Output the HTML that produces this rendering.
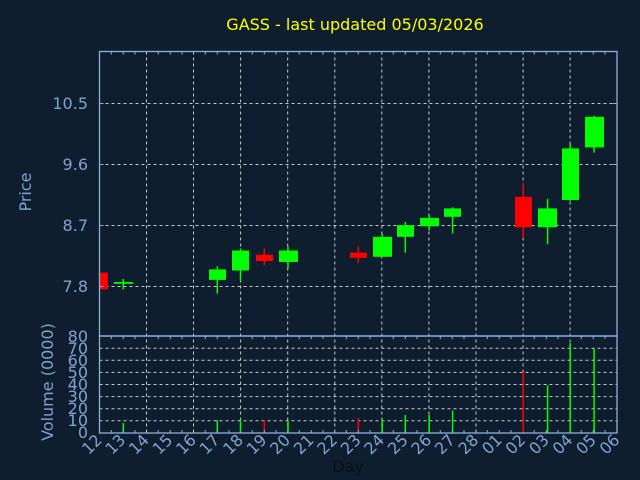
<!DOCTYPE html>
<html><head><meta charset="utf-8"><style>
html,body{margin:0;padding:0;background:#0f1e2f;}
svg{display:block;font-family:"DejaVu Sans","Liberation Sans",sans-serif;}
</style></head><body>
<svg width="640" height="480" viewBox="0 0 640 480" xmlns="http://www.w3.org/2000/svg">
<rect width="640" height="480" fill="#0f1e2f"/>
<text x="355" y="30" fill="#ffff00" font-size="16" text-anchor="middle">GASS - last updated 05/03/2026</text>
<g stroke="#c8c8c8" stroke-width="1" stroke-dasharray="3,3">
<line x1="99.5" y1="103.5" x2="617" y2="103.5"/>
<line x1="99.5" y1="164.5" x2="617" y2="164.5"/>
<line x1="99.5" y1="225.5" x2="617" y2="225.5"/>
<line x1="99.5" y1="286.5" x2="617" y2="286.5"/>
<line x1="99.5" y1="348.2" x2="617" y2="348.2"/>
<line x1="99.5" y1="360.3" x2="617" y2="360.3"/>
<line x1="99.5" y1="372.4" x2="617" y2="372.4"/>
<line x1="99.5" y1="384.5" x2="617" y2="384.5"/>
<line x1="99.5" y1="396.6" x2="617" y2="396.6"/>
<line x1="99.5" y1="408.7" x2="617" y2="408.7"/>
<line x1="99.5" y1="420.8" x2="617" y2="420.8"/>
</g>
<g stroke="#c8c8c8" stroke-width="1" stroke-dasharray="3,3" id="vg">
<line x1="146.5" y1="51.5" x2="146.5" y2="433"/>
<line x1="193.5" y1="51.5" x2="193.5" y2="433"/>
<line x1="240.6" y1="51.5" x2="240.6" y2="433"/>
<line x1="287.7" y1="51.5" x2="287.7" y2="433"/>
<line x1="334.8" y1="51.5" x2="334.8" y2="433"/>
<line x1="381.8" y1="51.5" x2="381.8" y2="433"/>
<line x1="428.9" y1="51.5" x2="428.9" y2="433"/>
<line x1="476" y1="51.5" x2="476" y2="433"/>
<line x1="523.1" y1="51.5" x2="523.1" y2="433"/>
<line x1="570.1" y1="51.5" x2="570.1" y2="433"/>
</g>
<!-- candles -->
<g fill="#00ff00" stroke="#00ff00" stroke-width="1.5">
<line x1="123.3" y1="279" x2="123.3" y2="289.4"/><rect x="114" y="282" width="19" height="1.8" stroke="none"/>
<line x1="217.3" y1="266.3" x2="217.3" y2="293.6"/><rect x="209" y="269.4" width="17" height="10.5" stroke="none"/>
<line x1="240.5" y1="248.4" x2="240.5" y2="281"/><rect x="232" y="250.5" width="17" height="20" stroke="none"/>
<line x1="288" y1="246.3" x2="288" y2="268.4"/><rect x="279" y="250.5" width="19" height="11.5" stroke="none"/>
<line x1="382.2" y1="233.6" x2="382.2" y2="240"/><rect x="373" y="236.8" width="19" height="20" stroke="none"/>
<line x1="405.3" y1="222" x2="405.3" y2="252.6"/><rect x="397" y="225.2" width="17" height="11.6" stroke="none"/>
<line x1="429.2" y1="214.7" x2="429.2" y2="230.5"/><rect x="420" y="217.9" width="19" height="8.4" stroke="none"/>
<line x1="452.6" y1="207.3" x2="452.6" y2="233.6"/><rect x="444" y="208.4" width="17" height="8.4" stroke="none"/>
<line x1="547.6" y1="198.9" x2="547.6" y2="244.2"/><rect x="538" y="208.4" width="19" height="18.9" stroke="none"/>
<line x1="570.2" y1="144.2" x2="570.2" y2="201"/><rect x="562" y="148.4" width="17" height="51.6" stroke="none"/>
<line x1="594.1" y1="115.8" x2="594.1" y2="152.6"/><rect x="585" y="116.8" width="19" height="30.6" stroke="none"/>
</g>
<g fill="#ff0000" stroke="#ff0000" stroke-width="1.5">
<rect x="99.5" y="272.6" width="8.4" height="16.8" stroke="none"/>
<line x1="264.3" y1="248.4" x2="264.3" y2="265.2"/><rect x="256" y="254.7" width="17" height="6.3" stroke="none"/>
<line x1="358.3" y1="246.3" x2="358.3" y2="263.1"/><rect x="350" y="252.6" width="17" height="5.2" stroke="none"/>
<line x1="523.2" y1="183.1" x2="523.2" y2="238"/><rect x="515" y="196.8" width="17" height="30.5" stroke="none"/>
</g>
<!-- volume -->
<g stroke="#00ff00" stroke-width="1.5">
<line x1="123.3" y1="423.1" x2="123.3" y2="433"/>
<line x1="217.3" y1="420.3" x2="217.3" y2="433"/>
<line x1="240.5" y1="419.3" x2="240.5" y2="433"/>
<line x1="288" y1="420.3" x2="288" y2="433"/>
<line x1="382.2" y1="418.9" x2="382.2" y2="433"/>
<line x1="405.3" y1="415" x2="405.3" y2="433"/>
<line x1="429.2" y1="414.7" x2="429.2" y2="433"/>
<line x1="452.6" y1="410.5" x2="452.6" y2="433"/>
<line x1="547.6" y1="385.2" x2="547.6" y2="433"/>
<line x1="570.2" y1="343.1" x2="570.2" y2="433"/>
<line x1="594.1" y1="348.1" x2="594.1" y2="433"/>
</g>
<g stroke="#ff0000" stroke-width="1.5">
<line x1="264.3" y1="420.3" x2="264.3" y2="433"/>
<line x1="358.3" y1="418.2" x2="358.3" y2="433"/>
<line x1="523.2" y1="371.9" x2="523.2" y2="433"/>
</g>
<!-- frames -->
<g fill="none" stroke="#8fb0dc" stroke-width="1.3">
<rect x="99.5" y="51.5" width="517.5" height="284.5"/>
<rect x="99.5" y="336" width="517.5" height="97"/>
</g>
<g stroke="#8fb0dc" stroke-width="1">
<path id="tk" d="M111.3 51.5v3M123.3 51.5v3M135 51.5v3M158.3 51.5v3M170.3 51.5v3M182 51.5v3M205.3 51.5v3M217.3 51.5v3M229 51.5v3M252.3 51.5v3M264.3 51.5v3M276 51.5v3M299.3 51.5v3M311.3 51.5v3M323 51.5v3M346.3 51.5v3M358.3 51.5v3M370 51.5v3M393.3 51.5v3M405.3 51.5v3M417 51.5v3M440.3 51.5v3M452.3 51.5v3M464 51.5v3M487.3 51.5v3M499.3 51.5v3M511 51.5v3M534.3 51.5v3M546.3 51.5v3M558 51.5v3M581.3 51.5v3M593.3 51.5v3M605 51.5v3"/>
<use href="#tk" y="284.5"/>
<use href="#tk" y="378.5"/>
<path d="M99.5 103.5h4M99.5 164.5h4M99.5 225.5h4M99.5 286.5h4M617 103.5h-4M617 164.5h-4M617 225.5h-4M617 286.5h-4"/>
</g>
<g fill="#7fa3cf" font-size="16" text-anchor="end">
<text x="88" y="109">10.5</text>
<text x="88" y="170">9.6</text>
<text x="88" y="231">8.7</text>
<text x="88" y="292">7.8</text>
</g>
<g fill="#7fa3cf" font-size="16" text-anchor="end">
<text x="88" y="342">80</text><text x="88" y="354">70</text><text x="88" y="366">60</text><text x="88" y="378">50</text><text x="88" y="390">40</text><text x="88" y="402">30</text><text x="88" y="414">20</text><text x="88" y="426">10</text><text x="88" y="438">0</text>
</g>
<text transform="translate(31,192) rotate(-90)" fill="#7fa3cf" font-size="16" text-anchor="middle">Price</text>
<text transform="translate(53,382) rotate(-90)" fill="#7fa3cf" font-size="16" text-anchor="middle">Volume (0000)</text>
<g fill="#7fa3cf" font-size="16" text-anchor="end">
<text transform="translate(103,441) rotate(-45)">12</text>
<text transform="translate(126.5,441) rotate(-45)">13</text>
<text transform="translate(150,441) rotate(-45)">14</text>
<text transform="translate(173.6,441) rotate(-45)">15</text>
<text transform="translate(197.1,441) rotate(-45)">16</text>
<text transform="translate(220.6,441) rotate(-45)">17</text>
<text transform="translate(244.2,441) rotate(-45)">18</text>
<text transform="translate(267.7,441) rotate(-45)">19</text>
<text transform="translate(291.2,441) rotate(-45)">20</text>
<text transform="translate(314.8,441) rotate(-45)">21</text>
<text transform="translate(338.3,441) rotate(-45)">22</text>
<text transform="translate(361.8,441) rotate(-45)">23</text>
<text transform="translate(385.3,441) rotate(-45)">24</text>
<text transform="translate(408.9,441) rotate(-45)">25</text>
<text transform="translate(432.4,441) rotate(-45)">26</text>
<text transform="translate(455.9,441) rotate(-45)">27</text>
<text transform="translate(479.5,441) rotate(-45)">28</text>
<text transform="translate(503,441) rotate(-45)">01</text>
<text transform="translate(526.5,441) rotate(-45)">02</text>
<text transform="translate(550.1,441) rotate(-45)">03</text>
<text transform="translate(573.6,441) rotate(-45)">04</text>
<text transform="translate(597.1,441) rotate(-45)">05</text>
<text transform="translate(620.6,441) rotate(-45)">06</text>
</g>
<text x="348" y="472" fill="#0a0f14" font-size="16" text-anchor="middle">Day</text>
</svg>
</body></html>
